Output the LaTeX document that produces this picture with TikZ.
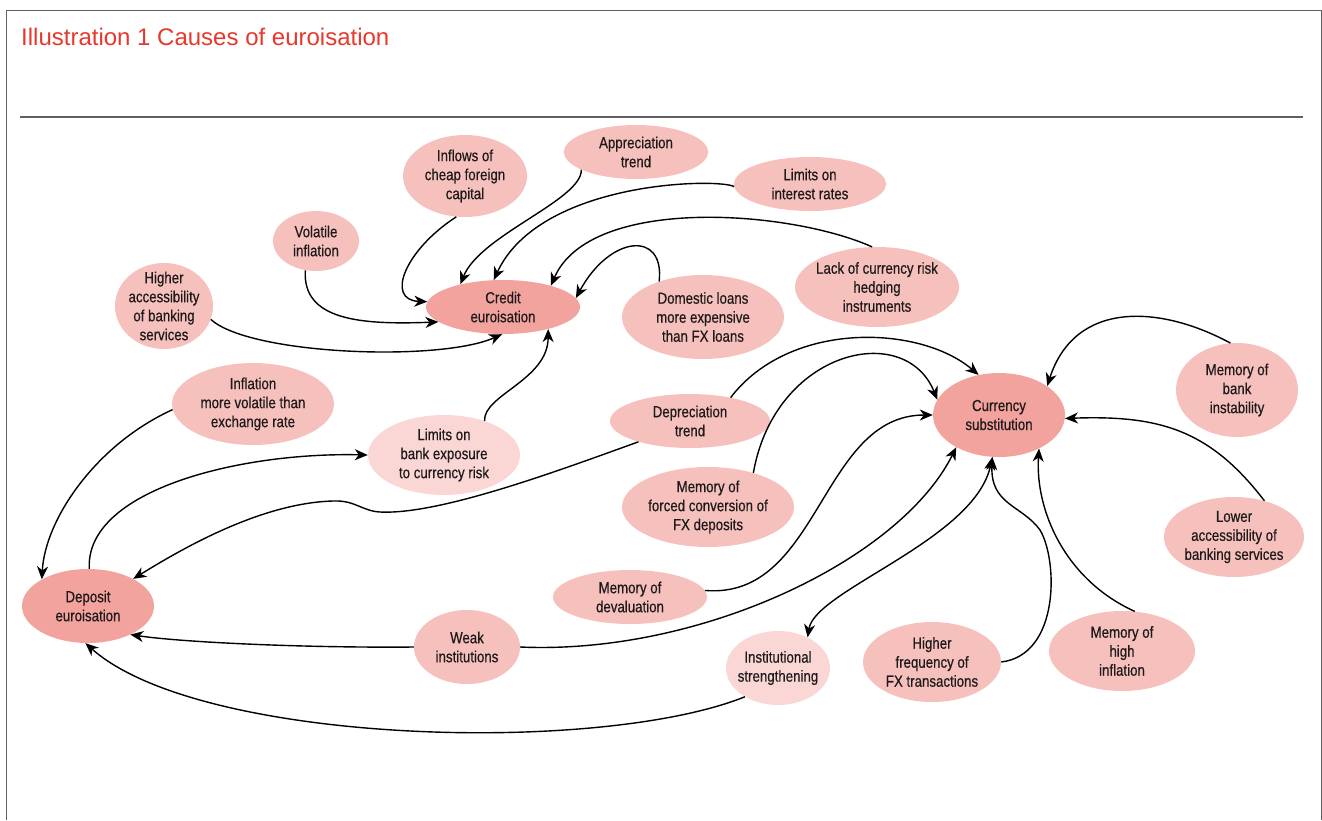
\documentclass[tikz,border=0pt]{standalone}
\usepackage{fontspec}
\setmainfont{Liberation Sans}[FakeStretch=0.83,FakeBold=0.45]
\newfontfamily\titlefont{Liberation Sans}
\usetikzlibrary{arrows.meta,shapes.geometric}
\definecolor{bubfill}{RGB}{246,193,189}
\definecolor{darkfill}{RGB}{243,163,158}
\definecolor{lightfill}{RGB}{250,214,212}
\definecolor{txt}{RGB}{30,26,27}
\definecolor{titlered}{RGB}{232,56,43}
\definecolor{framegray}{RGB}{95,95,95}
\begin{document}
\begin{tikzpicture}[x=1pt,y=-1pt,
  bub/.style={ellipse, fill=bubfill, draw=none, inner xsep=-6pt, inner ysep=-6pt,
    align=center, text=txt, font=\fontsize{16}{19}\selectfont},
  dark/.style={fill=darkfill},
  light/.style={fill=lightfill},
  sz/.style 2 args={minimum width=#1pt, minimum height=#2pt},
  conn/.style={line width=1.4pt, -{Stealth[length=13pt,width=11pt,inset=4pt]}},
  dconn/.style={line width=1.4pt, {Stealth[length=13pt,width=11pt,inset=4pt]}-{Stealth[length=13pt,width=11pt,inset=4pt]}}]
\useasboundingbox (0,0) rectangle (1322,820);
% frame and rule
\draw[framegray, line width=1pt] (6.5,820) -- (6.5,10.5) -- (1321,10.5) -- (1321,820);
\draw[framegray, line width=1.6pt] (20,117) -- (1303,117);
\node[anchor=base west, inner sep=0pt, text=titlered, font=\titlefont\fontsize{24}{28}\selectfont] (title) at (21,45) {Illustration 1 Causes of euroisation};

% nodes
\node[bub, dark, sz={154}{54}] (credit) at (503,307) {Credit\\euroisation};
\node[bub, sz={124}{82}] (inflows) at (465,176) {Inflows of\\cheap foreign\\capital};
\node[bub, sz={144}{54}] (apprec) at (636,152) {Appreciation\\trend};
\node[bub, sz={152}{54}] (limint) at (810,184) {Limits on\\interest rates};
\node[bub, sz={164}{80}] (lack) at (877,287) {Lack of currency risk\\hedging\\instruments};
\node[bub, sz={162}{84}] (domestic) at (703,317) {Domestic loans\\more expensive\\than FX loans};
\node[bub, sz={86}{60}] (volinf) at (316,241) {Volatile\\inflation};
\node[bub, sz={98}{86}] (highacc) at (164,306) {Higher\\accessibility\\of banking\\services};
\node[bub, sz={162}{82}] (infvol) at (253,404) {Inflation\\more volatile than\\exchange rate};
\node[bub, light, sz={152}{80}] (limbank) at (444,455) {Limits on\\bank exposure\\to currency risk};
\node[bub, dark, sz={132}{74}] (deposit) at (88,606) {Deposit\\euroisation};
\node[bub, sz={160}{54}] (deprec) at (690,421) {Depreciation\\trend};
\node[bub, sz={172}{80}] (forced) at (708,507) {Memory of\\forced conversion of\\FX deposits};
\node[bub, sz={154}{54}] (devalu) at (630,597) {Memory of\\devaluation};
\node[bub, sz={106}{74}] (weak) at (467,647) {Weak\\institutions};
\node[bub, light, sz={104}{74}] (inst) at (778,668) {Institutional\\strengthening};
\node[bub, sz={138}{80}] (highfreq) at (932,662) {Higher\\frequency of\\FX transactions};
\node[bub, sz={146}{80}] (highinf) at (1122,651) {Memory of\\high\\inflation};
\node[bub, sz={140}{80}] (lowacc) at (1234,537) {Lower\\accessibility of\\banking services};
\node[bub, sz={122}{94}] (bankinst) at (1237,390) {Memory of\\bank\\instability};
\node[bub, dark, sz={132}{84}] (currsub) at (999,415) {Currency\\substitution};

% connectors to credit euroisation
\draw[conn] (inflows.258) .. controls (405,250) and (385,300) .. (credit.176);
\draw[conn] (apprec.198) .. controls (582,200) and (480,235) .. (credit.152);
\draw[conn] (limint.182) .. controls (720,178) and (540,180) .. (credit.109);
\draw[conn] (lack.97) .. controls (790,210) and (590,195) .. (credit.24);
\draw[conn] (domestic.141) .. controls (665,230) and (610,235) .. (credit.7);
\draw[conn] (volinf.250) .. controls (302,320) and (360,325) .. (credit.193);
\draw[conn] (highacc.344) .. controls (250,355) and (440,362) .. (credit.268);
\draw[conn] (limbank.40) .. controls (483,395) and (548,380) .. (credit.334);

% connectors to deposit euroisation
\draw[conn] (infvol.184) .. controls (95,445) and (45,520) .. (deposit.150);
\draw[conn] (deposit.88) .. controls (85,490) and (240,452) .. (limbank.180);
\draw[conn] (deprec.202) .. controls (560,470) and (440,515) .. (380,512)
  .. controls (362,511) and (355,500) .. (333,501)
  .. controls (260,503) and (180,550) .. (deposit.31);
\draw[conn] (weak.180) .. controls (300,648) and (180,642) .. (deposit.326);
\draw[conn] (inst.221) .. controls (600,755) and (200,745) .. (deposit.266);

% connectors to currency substitution
\draw[conn] (weak.0) .. controls (700,655) and (900,560) .. (currsub.217);
\draw[conn] (devalu.5) .. controls (820,600) and (820,415) .. (currsub.180);
\draw[dconn] (inst.46) .. controls (815,590) and (975,540) .. (currsub.261);
\draw[conn] (deprec.30) .. controls (790,320) and (920,325) .. (currsub.117);
\draw[conn] (forced.37) .. controls (775,350) and (905,320) .. (currsub.166);
\draw[conn] (bankinst.98) .. controls (1160,305) and (1075,300) .. (currsub.31);
\draw[conn] (lowacc.50) .. controls (1210,430) and (1160,415) .. (currsub.357);
\draw[conn] (highinf.72) .. controls (1065,580) and (1035,510) .. (currsub.320);
\draw[conn] (highfreq.0) .. controls (1060,655) and (1058,560) .. (1040,530)
  .. controls (1022,505) and (990,505) .. (currsub.261);
\end{tikzpicture}
\end{document}
